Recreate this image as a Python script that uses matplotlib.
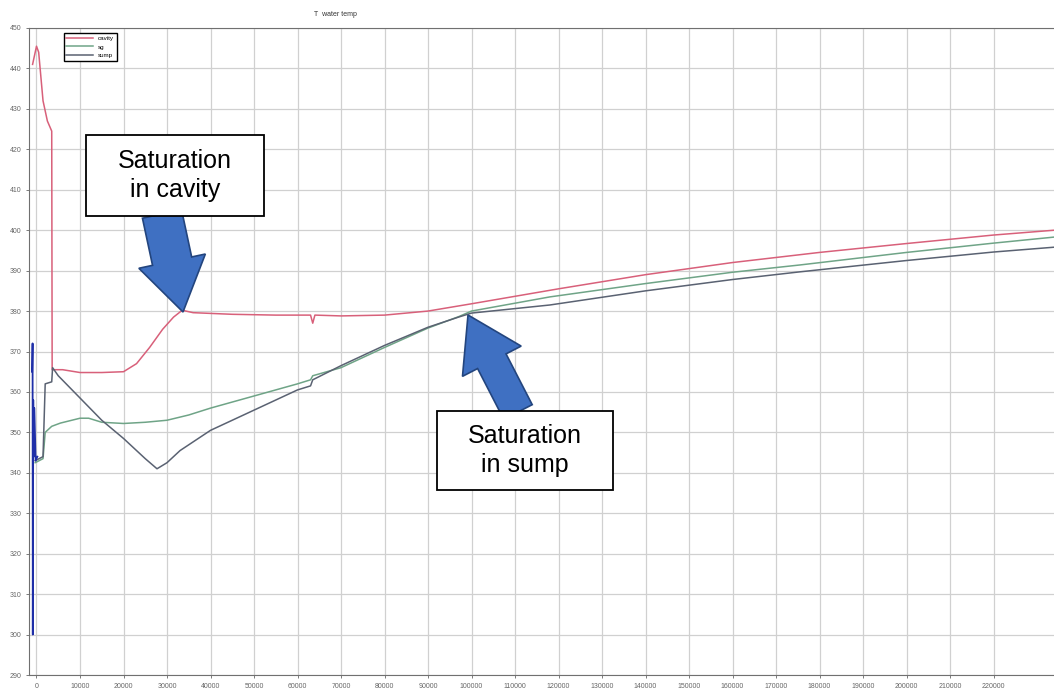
import matplotlib
matplotlib.use('Agg')
import matplotlib.pyplot as plt
from matplotlib.patches import Rectangle, FancyArrow
from matplotlib.transforms import Affine2D

plt.rcParams['font.family'] = ['Liberation Sans', 'DejaVu Sans']

# water temperature traces (time, temperature)
cavity_x = [-900, 0, 500, 1500, 2500, 3500, 3600, 6000, 10000, 15000, 20000, 23000,
            26000, 29000, 31500, 33500, 36000, 45000, 55000, 63000, 63500, 64000,
            70000, 80000, 90000, 100000, 120000, 140000, 160000, 180000, 200000,
            220000, 234000]
cavity_y = [441, 445.5, 444, 432, 427, 424.5, 365.5, 365.5, 364.8, 364.8, 365.0, 367,
            371, 375.5, 378.5, 380.2, 379.6, 379.2, 379.0, 379.0, 377, 379,
            378.8, 379.0, 380, 381.8, 385.5, 389, 392, 394.5, 396.7,
            398.8, 400]

sg_x = [-300, 1500, 2000, 3500, 5500, 10000, 12000, 15000, 20000, 25000, 30000, 35000,
        40000, 50000, 60000, 63000, 63500, 70000, 80000, 90000, 97000, 100000, 118000,
        140000, 160000, 175500, 200000, 220000, 234000]
sg_y = [342.5, 343.5, 350, 351.5, 352.3, 353.5, 353.5, 352.5, 352.2, 352.5, 353, 354.3,
        356, 359, 362, 363, 364, 366, 371, 375.8, 378.6, 380, 383.5,
        386.8, 389.6, 391.4, 394.5, 396.8, 398.3]

sump_x = [-300, 1500, 2000, 3500, 3700, 5000, 10000, 15000, 20000, 25000, 27700, 30000,
          33000, 40000, 50000, 60000, 63000, 63500, 70000, 80000, 90000, 97000, 100000,
          118000, 140000, 160000, 175500, 200000, 220000, 234000]
sump_y = [343, 344, 362, 362.5, 366, 364, 358.5, 353, 348.5, 343.5, 341, 342.5,
          345.5, 350.5, 355.5, 360.5, 361.5, 363, 366.5, 371.5, 376, 378.5, 379.5,
          381.5, 385, 387.8, 389.7, 392.5, 394.6, 395.8]

start_x = [-1000, -900, -850, -750, -650, -500, -200, 200]
start_y = [365, 372, 300, 358, 344, 356, 343, 344]

x_ticks = list(range(0, 220001, 10000))
y_ticks = list(range(290, 451, 10))

fig = plt.figure(figsize=(10.54, 6.93), dpi=100)
ax = fig.add_axes([29/1054, 18/693, 1025/1054, 647/693])

ax.plot(cavity_x, cavity_y, color='#d8607a', lw=1.1, label='cavity')
ax.plot(sg_x, sg_y, color='#6fa487', lw=1.1, label='sg')
ax.plot(sump_x, sump_y, color='#5a6272', lw=1.1, label='sump')
ax.plot(start_x, start_y, color='#1f2fa8', lw=1.3)

ax.set_xlim(-1724, 233900)
ax.set_ylim(290, 450)
ax.set_xticks(x_ticks)
ax.set_yticks(y_ticks)
ax.set_xticklabels([str(v) for v in x_ticks])
ax.set_yticklabels([str(v) for v in y_ticks])
ax.tick_params(labelsize=5, colors='#666666', length=2, width=0.6)
ax.grid(True, color='#d0d0d0', lw=0.9)
for s in ['left', 'bottom', 'top']:
    ax.spines[s].set_color('#707070')
ax.spines['right'].set_visible(False)

ax.legend(loc='upper left', bbox_to_anchor=(0.034, 0.992), borderaxespad=0,
          fontsize=4.5, handlelength=4.3, fancybox=False, edgecolor='black',
          framealpha=1)

fig.text(335/1054, 1 - 15/693, 'T  water temp', fontsize=5, color='#333333',
         ha='center', va='center')

# pixel transform (image coordinates, y down)
px = Affine2D().scale(1, -1).translate(0, 693)

arrow_kw = dict(length_includes_head=True, fc='#3f70c2', ec='#23457e', lw=1.2,
                transform=px, clip_on=False, zorder=5)
fig.add_artist(FancyArrow(162, 214, 21, 98, width=40, head_width=68,
                          head_length=52, **arrow_kw))
fig.add_artist(FancyArrow(518, 412, -50, -97, width=32, head_width=66,
                          head_length=52, **arrow_kw))

boxes = [((86, 135, 178, 81), 'Saturation\nin cavity'),
         ((437, 411, 176, 79), 'Saturation\nin sump')]
for (bx, by, bw, bh), txt in boxes:
    fig.add_artist(Rectangle((bx, by), bw, bh, transform=px, fc='white',
                             ec='black', lw=1.3, zorder=6))
    fig.text((bx + bw / 2) / 1054, 1 - (by + bh / 2) / 693, txt, fontsize=18,
             ha='center', va='center', linespacing=1.25, zorder=7)

fig.savefig('out.png', dpi=100)
